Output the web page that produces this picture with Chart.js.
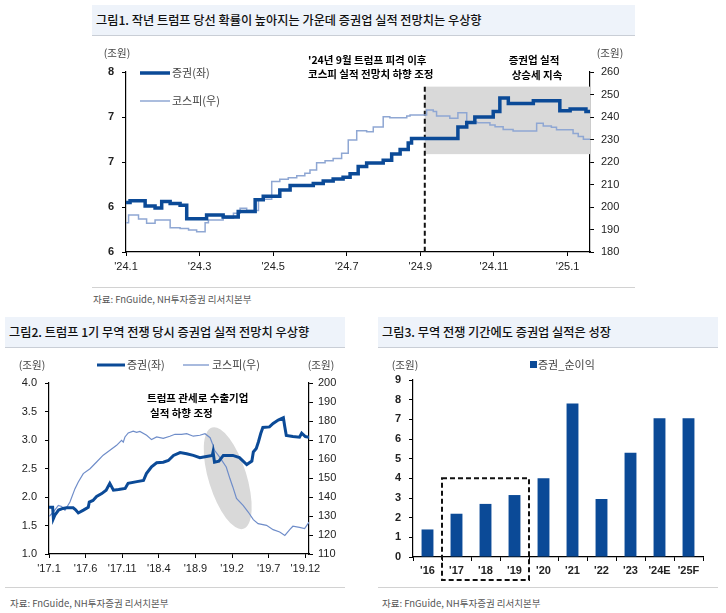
<!DOCTYPE html>
<html>
<head>
<meta charset="utf-8">
<script src="https://cdn.jsdelivr.net/npm/chart.js@4.4.1/dist/chart.umd.min.js"></script>
<style>
body{margin:0;background:#fff;}
#wrap{position:relative;width:726px;height:613px;overflow:hidden;font-family:'Noto Sans CJK KR',sans-serif;}
.title{position:absolute;background:#EEF3FA;border-bottom:1px solid #C9CED6;color:#111;font-size:12.2px;font-weight:500;line-height:30px;padding-left:4px;box-sizing:border-box;height:31px;white-space:nowrap;}
.sep{position:absolute;height:1px;background:#D2D2D2;}
.src{position:absolute;font-size:9.5px;color:#555;white-space:nowrap;}
canvas{position:absolute;}
</style>
</head>
<body>
<div id="wrap">
  <div class="title" style="left:92px;top:5px;width:543px;">그림1. 작년 트럼프 당선 확률이 높아지는 가운데 증권업 실적 전망치는 우상향</div>
  <canvas id="c1" width="570" height="245" style="left:76px;top:40px;width:570px;height:245px;"></canvas>
  <div class="sep" style="left:92px;top:287px;width:543px;"></div>
  <div class="src" style="left:93px;top:292px;">자료: FnGuide, NH투자증권 리서치본부</div>

  <div class="title" style="left:5px;top:317px;width:340px;">그림2. 트럼프 1기 무역 전쟁 당시 증권업 실적 전망치 우상향</div>
  <canvas id="c2" width="345" height="237" style="left:0px;top:350px;width:345px;height:237px;"></canvas>
  <div class="sep" style="left:5px;top:587px;width:340px;"></div>
  <div class="src" style="left:10px;top:596px;">자료: FnGuide, NH투자증권 리서치본부</div>

  <div class="title" style="left:378px;top:317px;width:340px;">그림3. 무역 전쟁 기간에도 증권업 실적은 성장</div>
  <canvas id="c3" width="345" height="237" style="left:375px;top:350px;width:345px;height:237px;"></canvas>
  <div class="sep" style="left:378px;top:587px;width:340px;"></div>
  <div class="src" style="left:382px;top:596px;">자료: FnGuide, NH투자증권 리서치본부</div>
</div>

<script>
// colours
var DARK = '#0B4A97';
var LIGHT1 = '#8FA7D3';
var LIGHT2 = '#6F8DC9';
var NUMFONT = "'Liberation Sans Narrow','Liberation Sans',Arial,sans-serif";
var KRFONT = "'Noto Sans CJK KR',sans-serif";

// ---- 그림1: months since '24.1, values
var topTicks = ["'24.1", "'24.3", "'24.5", "'24.7", "'24.9", "'24.11", "'25.1"];
var topLeftLabels = ['6', '6', '7', '7', '8'];
var topSec = [[0,6.55],[0.11,6.57],[0.52,6.51],[0.79,6.49],[0.97,6.56],[1.2,6.54],[1.47,6.52],[1.65,6.37],
  [2.19,6.41],[2.64,6.39],[3.05,6.45],[3.51,6.58],[3.73,6.62],[4.18,6.69],[4.46,6.74],[5.09,6.76],[5.36,6.79],
  [5.63,6.81],[5.9,6.83],[6.09,6.87],[6.31,6.95],[6.54,6.99],[6.99,7.02],[7.22,7.09],[7.45,7.14],[7.67,7.21],
  [7.76,7.26],[9.02,7.39],[9.26,7.44],[9.48,7.50],[9.98,7.56],[10.16,7.71],[10.39,7.65],[11.07,7.68],
  [11.79,7.57],[12.07,7.59],[12.5,7.56],[12.61,7.56]];
var topKospi = [[0,193.0],[0.07,196.4],[0.34,194.7],[0.56,192.8],[0.79,194.2],[1.2,190.8],[1.47,190.4],[1.7,189.8],
  [1.92,189.0],[2.15,193.0],[2.24,194.2],[2.64,195.0],[2.92,197.2],[3.1,199.4],[3.28,198.4],[3.6,203.4],
  [3.96,211.3],[4.18,212.3],[4.41,213.0],[4.64,213.9],[4.86,215.0],[5.0,216.4],[5.18,219.7],[5.41,220.6],
  [5.63,221.6],[5.86,223.9],[6.04,229.8],[6.27,233.9],[6.54,233.5],[6.72,235.6],[6.99,240.1],[7.17,239.7],
  [7.63,240.4],[7.72,240.9],[8.17,243.1],[8.35,242.4],[8.44,240.4],[8.8,239.4],[9.02,241.9],[9.26,237.9],
  [9.53,237.5],[9.89,236.4],[10.03,235.7],[10.25,234.5],[10.52,233.8],[11.16,237.2],[11.34,236.0],
  [11.56,235.4],[11.7,234.3],[12.15,232.7],[12.29,231.3],[12.43,230.1],[12.61,229.8]];
var topMaxMonth = 12.61;
var shockMonth = 8.12;
var boxRange = [223.5, 253.5];

// ---- 그림2: months since '17.1
var midTicks = ["'17.1", "'17.6", "'17.11", "'18.4", "'18.9", "'19.2", "'19.7", "'19.12"];
var midSec = [[0,1.82],[0.5,1.82],[0.6,1.62],[0.8,1.68],[1.3,1.77],[1.9,1.80],[2.4,1.81],[3.3,1.81],[3.6,1.78],
  [4.0,1.72],[4.7,1.77],[5.36,1.82],[5.5,1.91],[6.0,1.94],[6.5,2.01],[7.2,2.06],[7.8,2.12],[8.3,2.24],[8.8,2.12],
  [9.5,2.13],[10.4,2.15],[10.8,2.24],[12.0,2.27],[12.9,2.29],[13.3,2.41],[14.0,2.53],[14.7,2.60],[15.6,2.61],
  [16.3,2.64],[17.0,2.73],[17.9,2.78],[18.8,2.76],[19.7,2.73],[20.6,2.69],[21.5,2.71],[22.3,2.73],[22.4,2.79],
  [22.6,2.61],[23.2,2.63],[23.8,2.73],[25.1,2.73],[26.0,2.69],[27.0,2.57],[27.7,2.63],[27.9,2.79],[28.3,2.85],
  [28.6,2.97],[28.9,3.11],[29.2,3.22],[30.1,3.23],[30.6,3.29],[31.3,3.35],[32.0,3.39],[32.2,3.23],[32.4,3.08],
  [33.3,3.06],[34.2,3.05],[34.5,3.12],[35.0,3.06],[35.5,3.05]];
var midKospi = [[0.04,129.8],[0.59,132.1],[1.27,135.6],[1.73,135],[2.18,133],[2.86,137.4],[3.55,144.4],[4.0,147.9],
  [4.68,152.3],[5.6,154.9],[6.5,158.4],[7.4,162],[8.32,164.6],[9.23,167.2],[9.91,169.8],[10.14,168.9],
  [10.37,171.6],[10.82,173.7],[11.5,174.7],[11.96,174],[12.41,174.5],[13.33,172.5],[14.0,170.2],[14.7,171.6],
  [15.6,170.9],[16.5,172],[17.2,173],[18.1,173],[18.8,173.3],[19.7,172],[20.6,172.5],[21.3,173.3],[22.0,171.2],
  [22.4,167.2],[22.6,164.6],[23.3,161],[24.2,155.8],[24.7,149.7],[25.1,145.3],[25.6,139.2],[26.5,135.6],
  [27.2,132.1],[27.9,128.1],[28.55,126],[29.7,125.1],[30.6,122.8],[31.5,121.6],[32.2,119.8],[32.9,123],
  [33.3,124.6],[34.2,124],[34.9,123.4],[35.5,126.8]];
var midMaxMonth = 35.5;
var tariffCenter = [24.4, 2.33];

// ---- 그림3: 증권_순이익
var barCats = ["'16", "'17", "'18", "'19", "'20", "'21", "'22", "'23", "'24E", "'25F"];
var barVals = [1.4, 2.2, 2.7, 3.15, 4.0, 7.8, 2.95, 5.3, 7.05, 7.05];
var boxFrom = 1, boxTo = 3, boxTopVal = 4.0;

function pts(arr) {
    return arr.map(function (p) { return {x: p[0], y: p[1]}; });
}

function txt(ctx, s, x, y, font, color, align) {
    ctx.save();
    ctx.font = font;
    ctx.fillStyle = color || '#333';
    ctx.textAlign = align || 'left';
    ctx.textBaseline = 'middle';
    ctx.fillText(s, x, y);
    ctx.restore();
}

function line(ctx, x0, y0, x1, y1, color, w, dash) {
    ctx.save();
    ctx.strokeStyle = color;
    ctx.lineWidth = w;
    if (dash) ctx.setLineDash(dash);
    ctx.beginPath();
    ctx.moveTo(x0, y0);
    ctx.lineTo(x1, y1);
    ctx.stroke();
    ctx.restore();
}

function axisGrid() {
    return {drawOnChartArea: false, drawTicks: true, tickLength: 4, color: '#000', lineWidth: 1};
}
function axisBorder() {
    return {display: true, color: '#000', width: 1.2};
}
function numTicks(extra) {
    var t = {color: '#222', font: {family: NUMFONT, size: 11}, padding: 3};
    for (var k in extra) t[k] = extra[k];
    return t;
}

Chart.defaults.animation = false;
Chart.defaults.responsive = false;
Chart.defaults.plugins.legend.display = false;
Chart.defaults.plugins.tooltip.enabled = false;

// ================= 그림1 =================
var topDecor = {
    id: 'topDecor',
    beforeDatasetsDraw: function (chart) {
        var ctx = chart.ctx, a = chart.chartArea, x = chart.scales.x, yR = chart.scales.yR;
        var x0 = x.getPixelForValue(shockMonth);
        var yt = yR.getPixelForValue(boxRange[1]), yb = yR.getPixelForValue(boxRange[0]);
        ctx.save();
        ctx.fillStyle = '#D9D9D9';
        ctx.fillRect(x0, yt, a.right - x0, yb - yt);
        ctx.restore();
        line(ctx, x0, yt, x0, a.bottom, '#111', 2, [5, 3]);
    },
    afterDraw: function (chart) {
        var ctx = chart.ctx;
        txt(ctx, '(조원)', 41, 13, '10.5px ' + KRFONT, '#444', 'center');
        txt(ctx, '(조원)', 534, 13, '10.5px ' + KRFONT, '#444', 'center');
        line(ctx, 64, 33, 94, 33, DARK, 3.5);
        txt(ctx, '증권(좌)', 96, 33, '11px ' + KRFONT, '#444');
        line(ctx, 64, 61, 94, 61, LIGHT1, 1.5);
        txt(ctx, '코스피(우)', 96, 61, '11px ' + KRFONT, '#444');
        txt(ctx, "'24년 9월 트럼프 피격 이후", 232, 20, 'bold 10.5px ' + KRFONT, '#000');
        txt(ctx, '코스피 실적 전망치 하향 조정', 232, 34, 'bold 10.5px ' + KRFONT, '#000');
        txt(ctx, '증권업 실적', 458, 20, 'bold 10.5px ' + KRFONT, '#000', 'center');
        txt(ctx, '상승세 지속', 461, 35, 'bold 10.5px ' + KRFONT, '#000', 'center');
    }
};

new Chart(document.getElementById('c1'), {
    type: 'line',
    data: {
        datasets: [{
            label: '증권(좌)',
            data: pts(topSec),
            yAxisID: 'yL',
            borderColor: DARK,
            borderWidth: 3.5,
            stepped: 'before',
            pointRadius: 0,
            order: 0
        }, {
            label: '코스피(우)',
            data: pts(topKospi),
            yAxisID: 'yR',
            borderColor: LIGHT1,
            borderWidth: 1.5,
            stepped: 'before',
            pointRadius: 0,
            order: 1
        }]
    },
    options: {
        layout: {padding: {top: 32, left: 0, right: 0, bottom: 0}},
        scales: {
            x: {
                type: 'linear', min: 0, max: topMaxMonth,
                afterBuildTicks: function (s) {
                    s.ticks = topTicks.map(function (l, i) { return {value: i * 2}; });
                },
                ticks: numTicks({maxRotation: 0, autoSkip: false, padding: 4,
                    callback: function (v) { return topTicks[Math.round(v / 2)]; }}),
                grid: axisGrid(), border: axisBorder(),
                afterFit: function (s) { s.height = 33; }
            },
            yL: {
                position: 'left', min: 6, max: 8,
                ticks: numTicks({stepSize: 0.5, padding: 8, font: {family: NUMFONT, size: 11, weight: 'bold'},
                    callback: function (v) { return topLeftLabels[Math.round((v - 6) / 0.5)]; }}),
                grid: axisGrid(), border: axisBorder(),
                afterFit: function (s) { s.width = 50; }
            },
            yR: {
                position: 'right', min: 180, max: 260,
                ticks: numTicks({stepSize: 10, padding: 7}),
                grid: axisGrid(), border: axisBorder(),
                afterFit: function (s) { s.width = 56; }
            }
        }
    },
    plugins: [topDecor]
});

// ================= 그림2 =================
var midDecor = {
    id: 'midDecor',
    beforeDatasetsDraw: function (chart) {
        var ctx = chart.ctx;
        var cx = chart.scales.x.getPixelForValue(tariffCenter[0]);
        var cy = chart.scales.yL.getPixelForValue(tariffCenter[1]);
        ctx.save();
        ctx.fillStyle = '#D9D9D9';
        ctx.beginPath();
        ctx.ellipse(cx, cy, 19, 53, -0.3, 0, Math.PI * 2);
        ctx.fill();
        ctx.restore();
    },
    afterDraw: function (chart) {
        var ctx = chart.ctx;
        txt(ctx, '(조원)', 32, 15, '10.5px ' + KRFONT, '#444', 'center');
        txt(ctx, '(조원)', 321, 15, '10.5px ' + KRFONT, '#444', 'center');
        line(ctx, 97, 15, 125, 15, DARK, 3);
        txt(ctx, '증권(좌)', 127, 15, '11px ' + KRFONT, '#444');
        line(ctx, 183, 15, 209, 15, LIGHT2, 1.2);
        txt(ctx, '코스피(우)', 212, 15, '11px ' + KRFONT, '#444');
        txt(ctx, '트럼프 관세로 수출기업', 147, 48, 'bold 10.5px ' + KRFONT, '#000');
        txt(ctx, '실적 하향 조정', 150, 63, 'bold 10.5px ' + KRFONT, '#000');
    }
};

new Chart(document.getElementById('c2'), {
    type: 'line',
    data: {
        datasets: [{
            label: '증권(좌)',
            data: pts(midSec),
            yAxisID: 'yL',
            borderColor: DARK,
            borderWidth: 3,
            pointRadius: 0,
            order: 0
        }, {
            label: '코스피(우)',
            data: pts(midKospi),
            yAxisID: 'yR',
            borderColor: LIGHT2,
            borderWidth: 1.2,
            pointRadius: 0,
            order: 1
        }]
    },
    options: {
        layout: {padding: {top: 33, left: 0, right: 0, bottom: 0}},
        scales: {
            x: {
                type: 'linear', min: 0, max: midMaxMonth,
                afterBuildTicks: function (s) {
                    s.ticks = midTicks.map(function (l, i) { return {value: i * 5}; });
                },
                ticks: numTicks({maxRotation: 0, autoSkip: false, padding: 4,
                    callback: function (v) { return midTicks[Math.round(v / 5)]; }}),
                grid: axisGrid(), border: axisBorder(),
                afterFit: function (s) { s.height = 33; }
            },
            yL: {
                position: 'left', min: 1, max: 4,
                ticks: numTicks({stepSize: 0.5, padding: 8,
                    callback: function (v) { return v.toFixed(1); }}),
                grid: axisGrid(), border: axisBorder(),
                afterFit: function (s) { s.width = 49; }
            },
            yR: {
                position: 'right', min: 110, max: 200,
                ticks: numTicks({stepSize: 10, padding: 5}),
                grid: axisGrid(), border: axisBorder(),
                afterFit: function (s) { s.width = 36; }
            }
        }
    },
    plugins: [midDecor]
});

// ================= 그림3 =================
var barDecor = {
    id: 'barDecor',
    afterDraw: function (chart) {
        var ctx = chart.ctx, x = chart.scales.x, y = chart.scales.y;
        var half = (x.getPixelForValue(1) - x.getPixelForValue(0)) / 2;
        var l = x.getPixelForValue(boxFrom) - half, r = x.getPixelForValue(boxTo) + half;
        var t = y.getPixelForValue(boxTopVal), b = chart.chartArea.bottom + 23;
        ctx.save();
        ctx.strokeStyle = '#111';
        ctx.lineWidth = 2;
        ctx.setLineDash([5, 3]);
        ctx.strokeRect(l, t, r - l, b - t);
        ctx.restore();
        txt(ctx, '(조원)', 30, 15, '10.5px ' + KRFONT, '#444', 'center');
        ctx.fillStyle = DARK;
        ctx.fillRect(155, 11, 7, 7);
        txt(ctx, '증권_순이익', 163, 15, '11px ' + KRFONT, '#444');
    }
};

new Chart(document.getElementById('c3'), {
    type: 'bar',
    data: {
        labels: barCats,
        datasets: [{
            label: '증권_순이익',
            data: barVals,
            backgroundColor: DARK,
            barPercentage: 0.82,
            categoryPercentage: 0.5
        }]
    },
    options: {
        layout: {padding: {top: 30, left: 0, right: 17, bottom: 0}},
        scales: {
            x: {
                ticks: numTicks({maxRotation: 0, autoSkip: false, padding: 3,
                    font: {family: NUMFONT, size: 11, weight: 'bold'}}),
                grid: {offset: true, drawOnChartArea: false, drawTicks: true, tickLength: 4, color: '#000'},
                border: axisBorder(),
                afterFit: function (s) { s.height = 30; }
            },
            y: {
                min: 0, max: 9,
                ticks: numTicks({stepSize: 1, padding: 8, font: {family: NUMFONT, size: 11, weight: 'bold'}}),
                grid: axisGrid(), border: axisBorder(),
                afterFit: function (s) { s.width = 38; }
            }
        }
    },
    plugins: [barDecor]
});
</script>
</body>
</html>
